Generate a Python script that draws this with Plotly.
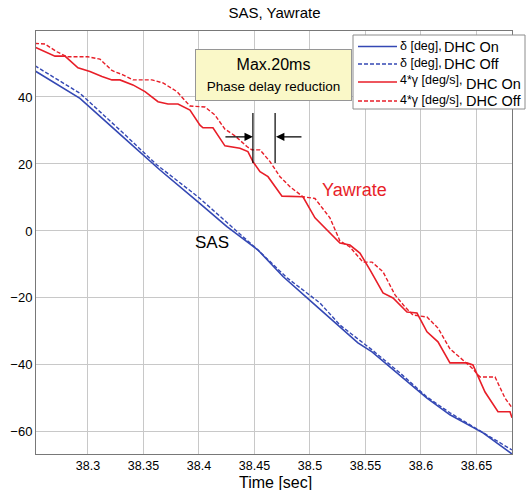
import plotly.graph_objects as go

# ---- data ----
t_red_on = [38.2523, 38.2703, 38.2793, 38.2910, 38.3018, 38.3126, 38.3216, 38.3288, 38.3405, 38.3514,
            38.3631, 38.3721, 38.3811, 38.3919, 38.4009, 38.4036, 38.4126, 38.4234, 38.4369, 38.4441,
            38.4486, 38.4550, 38.4622, 38.4748, 38.4937, 38.5045, 38.5270, 38.5360, 38.5450, 38.5541,
            38.5658, 38.5748, 38.5874, 38.5964, 38.6054, 38.6153, 38.6261, 38.6414, 38.6468, 38.6577,
            38.6694, 38.6802, 38.6820]
y_red_on = [54.9, 52.2, 52.2, 48.7, 47.6, 46.1, 45.1, 45.1, 43.6, 41.6,
            38.6, 37.9, 37.9, 36.1, 31.6, 30.8, 30.8, 25.4, 24.7, 23.7,
            20.7, 17.7, 16.2, 10.4, 10.2, 3.9, -3.6, -4.2, -6.6, -11.6,
            -18.5, -20.0, -24.2, -24.5, -30.1, -33.1, -39.4, -39.4, -40.0, -48.1,
            -54.0, -54.0, -55.8]

t_red_off = [38.2523, 38.2613, 38.2721, 38.2811, 38.3000, 38.3108, 38.3216, 38.3315, 38.3405, 38.3577,
             38.3676, 38.3802, 38.3919, 38.4054, 38.4144, 38.4234, 38.4324, 38.4432, 38.4477, 38.4550,
             38.4640, 38.4730, 38.4820, 38.4937, 38.5045, 38.5180, 38.5270, 38.5360, 38.5477, 38.5559,
             38.5658, 38.5766, 38.5856, 38.5928, 38.6054, 38.6153, 38.6261, 38.6378, 38.6459, 38.6532,
             38.6667, 38.6757, 38.6820]
y_red_off = [56.0, 55.8, 53.5, 52.0, 52.0, 51.3, 47.9, 46.6, 45.1, 45.1,
             44.2, 41.6, 37.3, 37.0, 34.6, 30.4, 28.4, 25.2, 24.2, 24.2,
             20.7, 16.2, 13.2, 10.2, 9.7, 3.9, -3.0, -4.8, -9.3, -9.3,
             -12.2, -19.1, -22.7, -25.1, -25.7, -29.0, -35.2, -38.5, -40.9, -43.6,
             -43.6, -49.9, -52.8]

t_blue_on = [38.2523, 38.2928, 38.3315, 38.3649, 38.3991, 38.4252, 38.4532, 38.4757, 38.5063, 38.5270,
             38.5432, 38.5559, 38.5811, 38.6054, 38.6261, 38.6559, 38.6820]
y_blue_on = [47.8, 39.6, 28.1, 18.2, 8.7, 1.3, -5.7, -13.6, -22.6, -28.7,
             -33.4, -36.1, -43.0, -49.9, -54.9, -60.3, -66.6]

t_blue_off = [38.2523, 38.2928, 38.3315, 38.3622, 38.3991, 38.4252, 38.4532, 38.4793, 38.5090, 38.5270,
              38.5559, 38.5811, 38.6054, 38.6261, 38.6559, 38.6820]
y_blue_off = [49.3, 41.1, 29.3, 19.7, 10.2, 2.4, -5.7, -14.0, -21.5, -28.1,
              -35.5, -42.4, -49.6, -54.3, -60.3, -65.4]

x_ticks = [38.3, 38.35, 38.4, 38.45, 38.5, 38.55, 38.6, 38.65]
x_tick_labels = ["38.3", "38.35", "38.4", "38.45", "38.5", "38.55", "38.6", "38.65"]
y_ticks = [-60, -40, -20, 0, 20, 40]

delay_marks_t = [38.4486, 38.4686]
delay_marks_y = [35.2, 20.3]
arrow_y = 28.1

legend_small = ["δ [deg],", "δ [deg],", "4*γ [deg/s],", "4*γ [deg/s],"]
legend_big = ["DHC On", "DHC Off", "DHC On", "DHC Off"]

BLUE = "rgb(52,72,180)"
RED = "rgb(232,30,40)"
FONT = "Liberation Sans, Arial, sans-serif"
DASH = "4px,2px"

styles = [dict(color=BLUE, width=1.6), dict(color=BLUE, width=1.4, dash=DASH),
          dict(color=RED, width=1.6), dict(color=RED, width=1.4, dash=DASH)]
series = [(t_blue_on, y_blue_on), (t_blue_off, y_blue_off), (t_red_on, y_red_on), (t_red_off, y_red_off)]

fig = go.Figure()
for (tx, ty), st, a, b in zip(series, styles, legend_small, legend_big):
    fig.add_trace(go.Scatter(x=tx, y=ty, mode="lines", name=a + b, line=st, showlegend=False))

# ---- layout helpers (pixel -> paper) ----
L, R, T, B = 36, 512, 31, 454
def px(xp):
    return (xp - L) / (R - L)
def py(yp):
    return (B - yp) / (B - T)

# delay marker vertical lines
for tm in delay_marks_t:
    fig.add_shape(type="line", x0=tm, x1=tm, y0=delay_marks_y[0], y1=delay_marks_y[1],
                  xref="x", yref="y", line=dict(color="black", width=1.2))

# arrows
fig.add_annotation(x=delay_marks_t[0], y=arrow_y, ax=38.4225, ay=arrow_y,
                   xref="x", yref="y", axref="x", ayref="y", text="",
                   showarrow=True, arrowhead=2, arrowsize=1.2, arrowwidth=1.4, arrowcolor="black")
fig.add_annotation(x=delay_marks_t[1] + 0.0008, y=arrow_y, ax=38.4937, ay=arrow_y,
                   xref="x", yref="y", axref="x", ayref="y", text="",
                   showarrow=True, arrowhead=2, arrowsize=1.2, arrowwidth=1.4, arrowcolor="black")

# yellow note box
fig.add_annotation(x=px(273.5), y=py(75), xref="paper", yref="paper",
                   xanchor="center", yanchor="middle",
                   text='Max.20ms<br><span style="font-size:13.5px">Phase delay reduction</span>',
                   showarrow=False, font=dict(family=FONT, size=16, color="black"),
                   bgcolor="rgb(250,248,200)", bordercolor="rgb(150,150,150)", borderwidth=1,
                   width=153, height=48, align="center")

fig.add_annotation(x=38.5405, y=12.2, xref="x", yref="y", text="Yawrate", showarrow=False,
                   font=dict(family=FONT, size=18, color=RED))
fig.add_annotation(x=38.4117, y=-3.3, xref="x", yref="y", text="SAS", showarrow=False,
                   font=dict(family=FONT, size=17, color="black"))

# x-axis title
fig.add_annotation(x=px(275), y=py(482), xref="paper", yref="paper", text="Time [sec]",
                   showarrow=False, xanchor="center", yanchor="middle",
                   font=dict(family=FONT, size=16, color="black"))

# custom legend
fig.add_shape(type="rect", xref="paper", yref="paper", x0=px(353), x1=px(525), y0=py(109), y1=py(35),
              fillcolor="white", line=dict(color="rgb(140,140,140)", width=1), layer="above")
line_y = [46.5, 64, 82, 101]
small_y = [45.5, 63, 80, 100]
big_y = [46.5, 64, 84, 101.5]
big_x = [443, 443, 465, 465]
for i in range(4):
    fig.add_shape(type="line", xref="paper", yref="paper", x0=px(358), x1=px(397),
                  y0=py(line_y[i]), y1=py(line_y[i]), line=styles[i], layer="above")
    fig.add_annotation(x=px(399), y=py(small_y[i]), xref="paper", yref="paper", text=legend_small[i],
                       showarrow=False, xanchor="left", yanchor="middle", borderpad=0,
                       font=dict(family=FONT, size=12.5, color="black"))
    fig.add_annotation(x=px(big_x[i]), y=py(big_y[i]), xref="paper", yref="paper", text=legend_big[i],
                       showarrow=False, xanchor="left", yanchor="middle", borderpad=0,
                       font=dict(family=FONT, size=14.5, color="black"))

fig.update_layout(
    width=531, height=490,
    margin=dict(l=L, r=531 - R, t=T, b=490 - B, autoexpand=False),
    paper_bgcolor="white", plot_bgcolor="white",
    font=dict(family=FONT, size=13, color="black"),
    title=dict(text="SAS, Yawrate", x=px(274.5), xref="paper", xanchor="center",
               y=1 - 13 / 490, yref="container", yanchor="middle",
               font=dict(family=FONT, size=15, color="black")),
    showlegend=False,
)
fig.update_xaxes(range=[38.2532, 38.6820], tickvals=x_ticks, ticktext=x_tick_labels,
                 showgrid=True, gridcolor="rgb(200,200,200)", gridwidth=1,
                 showline=True, linecolor="rgb(120,120,120)", linewidth=1, mirror=True,
                 zeroline=False, ticks="", tickfont=dict(size=12.5), automargin=False)
fig.update_yaxes(range=[-66.6, 59.7], tickvals=y_ticks,
                 showgrid=True, gridcolor="rgb(200,200,200)", gridwidth=1,
                 showline=True, linecolor="rgb(120,120,120)", linewidth=1, mirror=True,
                 zeroline=False, ticks="", tickfont=dict(size=13), automargin=False)

fig.write_html("out.html")
